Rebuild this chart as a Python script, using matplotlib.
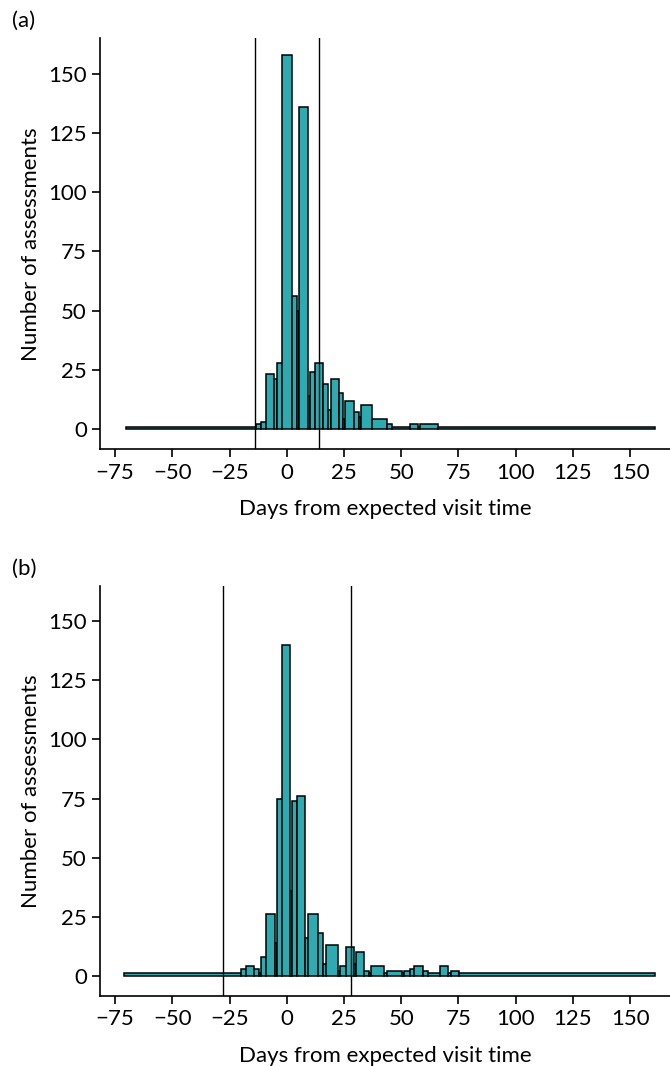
import matplotlib.pyplot as plt
import numpy as np

plt.rcParams['font.family'] = ['Lato', 'DejaVu Sans']

# panel (a): variable-width bins, counts
edges_a = [-70.2, -13.4, -11.1, -8.9, -5.4, -4.4, -2.05, 2.46, 4.64, 5.5, 9.3, 10.3,
           12.4, 15.86, 18.2, 19.1, 22.6, 24.7, 25.6, 29.25, 31.4, 32.5, 37.1, 43.7,
           46.0, 53.7, 57.2, 58.2, 66.1, 160.9]
counts_a = [1, 2, 3, 23, 21, 28, 158, 56, 50, 136, 14, 24,
            28, 19, 8, 21, 15, 4, 12, 7, 5, 10, 4,
            2, 1, 2, 1, 2, 1]
window_a = [-14, 14]

# panel (b)
edges_b = [-71.1, -19.97, -17.93, -14.29, -12.10, -11.08, -8.9, -5.11, -4.24, -1.91,
           1.30, 2.46, 4.5, 8.14, 9.3, 13.5, 15.86, 17.0, 22.56, 23.43, 25.9, 29.26,
           30.28, 33.77, 35.95, 36.83, 42.65, 43.67, 50.5, 51.4, 53.7, 55.6, 59.4,
           61.7, 67.0, 70.6, 71.6, 75.1, 160.9]
counts_b = [1, 3, 4, 3, 1, 8, 26, 14, 75, 140,
            36, 74, 76, 16, 26, 18, 5, 13, 2, 4, 12,
            5, 10, 2, 1, 4, 1, 2, 1, 2, 3, 4,
            2, 1, 4, 1, 2, 1]
window_b = [-28, 28]

panels = [("(a)", edges_a, counts_a, window_a), ("(b)", edges_b, counts_b, window_b)]

fig = plt.figure(figsize=(6.7, 10.66), dpi=100)
boxes = [[0.1493, 0.5785, 0.8507, 0.3856], [0.1493, 0.0657, 0.8507, 0.3846]]

for box, (tag, edges, counts, window) in zip(boxes, panels):
    ax = fig.add_axes(box)
    e = np.array(edges)
    ax.bar(e[:-1], counts, width=np.diff(e), align='edge',
           color='#2eaab1', edgecolor='black', linewidth=1.1, zorder=2)
    for w in window:
        ax.axvline(w, color='black', linewidth=1.0, zorder=3)
    ax.set_xlim(-81.6, 167.4)
    ax.set_ylim(-8.6, 165)
    ax.set_xticks(np.arange(-75, 151, 25))
    ax.set_xticklabels(['\u221275', '\u221250', '\u221225', '0', '25', '50', '75', '100', '125', '150'])
    ax.set_yticks(np.arange(0, 151, 25))
    ax.spines['top'].set_visible(False)
    ax.spines['right'].set_visible(False)
    for s in ['left', 'bottom']:
        ax.spines[s].set_linewidth(1.2)
    ax.tick_params(labelsize=16, length=5.5, width=1.2, pad=4)
    ax.set_xlabel('Days from expected visit time', fontsize=16, labelpad=12)
    ax.set_ylabel('Number of assessments', fontsize=16, labelpad=5)
    ax.text(-0.155, 1.042, tag, transform=ax.transAxes, fontsize=16, va='center', ha='left')

fig.savefig('out.png', dpi=100)
